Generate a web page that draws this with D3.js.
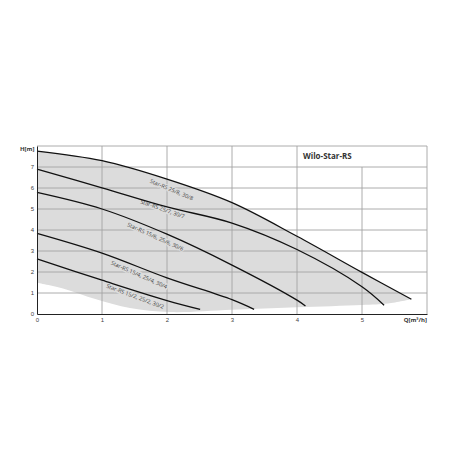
<!DOCTYPE html>
<html>
<head>
<meta charset="utf-8">
<script src="https://cdn.jsdelivr.net/npm/d3@7"></script>
<style>
  body { margin: 0; background: #fff; }
  svg { display: block; font-family: 'Open Sans', sans-serif; }
  .grid line { stroke: #a3a3a3; stroke-width: 0.9; }
  .curve { fill: none; stroke: #111; stroke-width: 1.3; }
  .tick text { fill: #444; font-size: 6px; }
  .curve-label { fill: #444; font-size: 5.6px; stroke: #dcdcdc; stroke-width: 2.5; paint-order: stroke; }
</style>
</head>
<body>
<script>
'use strict';

// pump curves, Q in m3/h, H in m
const q8 = [0, 1, 2, 3, 4, 5, 5.76];
const h8 = [7.76, 7.3, 6.42, 5.3, 3.7, 1.98, 0.7];
const q7 = [0, 1, 2, 3, 4, 5, 5.34];
const h7 = [6.9, 6.01, 5.1, 4.33, 3.07, 1.3, 0.42];
const q6 = [0, 1, 2, 3, 4, 4.13];
const h6 = [5.79, 5.0, 3.8, 2.33, 0.66, 0.38];
const q4 = [0, 1, 2, 3, 3.34];
const h4 = [3.84, 2.9, 1.72, 0.68, 0.22];
const q2 = [0, 1, 2, 2.51];
const h2 = [2.62, 1.61, 0.64, 0.22];

// lower edge of the grey working range
const qLow = [0, 0.4, 0.91, 1.43, 2.05, 3, 4, 5, 5.4, 5.76];
const hLow = [1.49, 1.22, 0.7, 0.28, 0.09, 0.2, 0.32, 0.43, 0.5, 0.7];

const labels = ['Star-RS 25/8, 30/8', 'Star-RS 25/7, 30/7', 'Star-RS 15/6, 25/6, 30/6',
  'Star-RS 15/4, 25/4, 30/4', 'Star-RS 15/2, 25/2, 30/2'];
const labelQ = [2.07, 1.93, 1.82, 1.57, 1.51];
const labelH = [5.92, 5.0, 3.68, 1.87, 0.84];

const xTicks = [0, 1, 2, 3, 4, 5];
const yTicks = [0, 1, 2, 3, 4, 5, 6, 7];
const xGrid = [1, 2, 3, 4, 5];
const yGrid = [1, 2, 3, 4, 5, 6, 7];

const title = 'Wilo-Star-RS';
const xTitle = 'Q[m³/h]';
const yTitle = 'H[m]';

const margin = {left: 37, right: 23, top: 146, bottom: 136};
const width = 450 - margin.left - margin.right;
const height = 450 - margin.top - margin.bottom;

const xScale = d3.scaleLinear().domain([0, 6]).range([0, width]);
const yScale = d3.scaleLinear().domain([0, 8]).range([height, 0]);

const zip = (qs, hs) => qs.map((q, i) => [q, hs[i]]);
const curves = [zip(q8, h8), zip(q7, h7), zip(q6, h6), zip(q4, h4), zip(q2, h2)];

const lineGenerator = d3.line()
  .x(d => xScale(d[0]))
  .y(d => yScale(d[1]))
  .curve(d3.curveCatmullRom.alpha(0.5));

const svg = d3.select('body').append('svg')
  .attr('width', 450)
  .attr('height', 450);

const g = svg.append('g')
  .attr('transform', 'translate(' + [margin.left, margin.top] + ')');

// grey area: top curve, then lower edge backwards
const upper = lineGenerator(curves[0]);
const lower = lineGenerator(zip(qLow, hLow).reverse()).replace(/^M/, 'L');
g.append('path')
  .attr('d', upper + lower + 'Z')
  .attr('fill', '#dcdcdc');

const grid = g.append('g').attr('class', 'grid');
grid.selectAll('.v')
  .data(xGrid)
  .enter()
  .append('line')
  .attr('x1', d => xScale(d))
  .attr('x2', d => xScale(d))
  .attr('y1', yScale(0))
  .attr('y2', d => d >= 4 ? yScale(7) : yScale(8));
grid.selectAll('.h')
  .data(yGrid)
  .enter()
  .append('line')
  .attr('x1', xScale(0))
  .attr('x2', xScale(6))
  .attr('y1', d => yScale(d))
  .attr('y2', d => yScale(d));
grid.append('line')
  .attr('x1', xScale(0)).attr('x2', xScale(6))
  .attr('y1', yScale(8)).attr('y2', yScale(8));
grid.append('line')
  .attr('x1', xScale(6)).attr('x2', xScale(6))
  .attr('y1', yScale(0)).attr('y2', yScale(8));
grid.append('line')
  .attr('x1', xScale(4)).attr('x2', xScale(4))
  .attr('y1', yScale(7)).attr('y2', yScale(8));

g.append('text')
  .attr('x', xScale(4) + 6)
  .attr('y', yScale(8) + 12.5)
  .attr('font-size', 8)
  .attr('font-weight', 'bold')
  .attr('fill', '#333')
  .text(title);

// labels follow the local slope of their curve
g.selectAll('.curve-label')
  .data(labels)
  .enter()
  .append('text')
  .attr('class', 'curve-label')
  .attr('text-anchor', 'middle')
  .attr('dy', '0.35em')
  .attr('transform', (d, i) => {
    const pts = curves[i];
    const k = d3.bisector(p => p[0]).right(pts, labelQ[i]);
    const a = pts[Math.max(k - 1, 0)];
    const b = pts[Math.min(k, pts.length - 1)];
    const angle = Math.atan2(yScale(b[1]) - yScale(a[1]), xScale(b[0]) - xScale(a[0])) * 180 / Math.PI;
    return 'translate(' + [xScale(labelQ[i]), yScale(labelH[i])] + ') rotate(' + (angle + 3) + ')';
  })
  .text(d => d);

g.selectAll('.curve')
  .data(curves)
  .enter()
  .append('path')
  .attr('class', 'curve')
  .attr('d', lineGenerator);

const xAxis = g.append('g')
  .attr('transform', 'translate(0, ' + height + ')')
  .call(d3.axisBottom(xScale).tickValues(xTicks).tickSize(0).tickPadding(4).tickFormat(d3.format('d')));
const yAxis = g.append('g')
  .call(d3.axisLeft(yScale).tickValues(yTicks).tickSize(0).tickPadding(3).tickFormat(d3.format('d')));

[xAxis, yAxis].forEach(ax => {
  ax.select('.domain').attr('stroke', '#222').attr('stroke-width', 1);
  ax.selectAll('.tick text').attr('font-family', null).attr('font-size', null);
});

g.append('text')
  .attr('x', xScale(6))
  .attr('y', height + 8)
  .attr('text-anchor', 'end')
  .attr('font-size', 6)
  .attr('font-weight', 'bold')
  .attr('fill', '#333')
  .text(xTitle);

g.append('text')
  .attr('x', -2.5)
  .attr('y', 4.5)
  .attr('text-anchor', 'end')
  .attr('font-size', 6)
  .attr('font-weight', 'bold')
  .attr('fill', '#333')
  .text(yTitle);
</script>
</body>
</html>
